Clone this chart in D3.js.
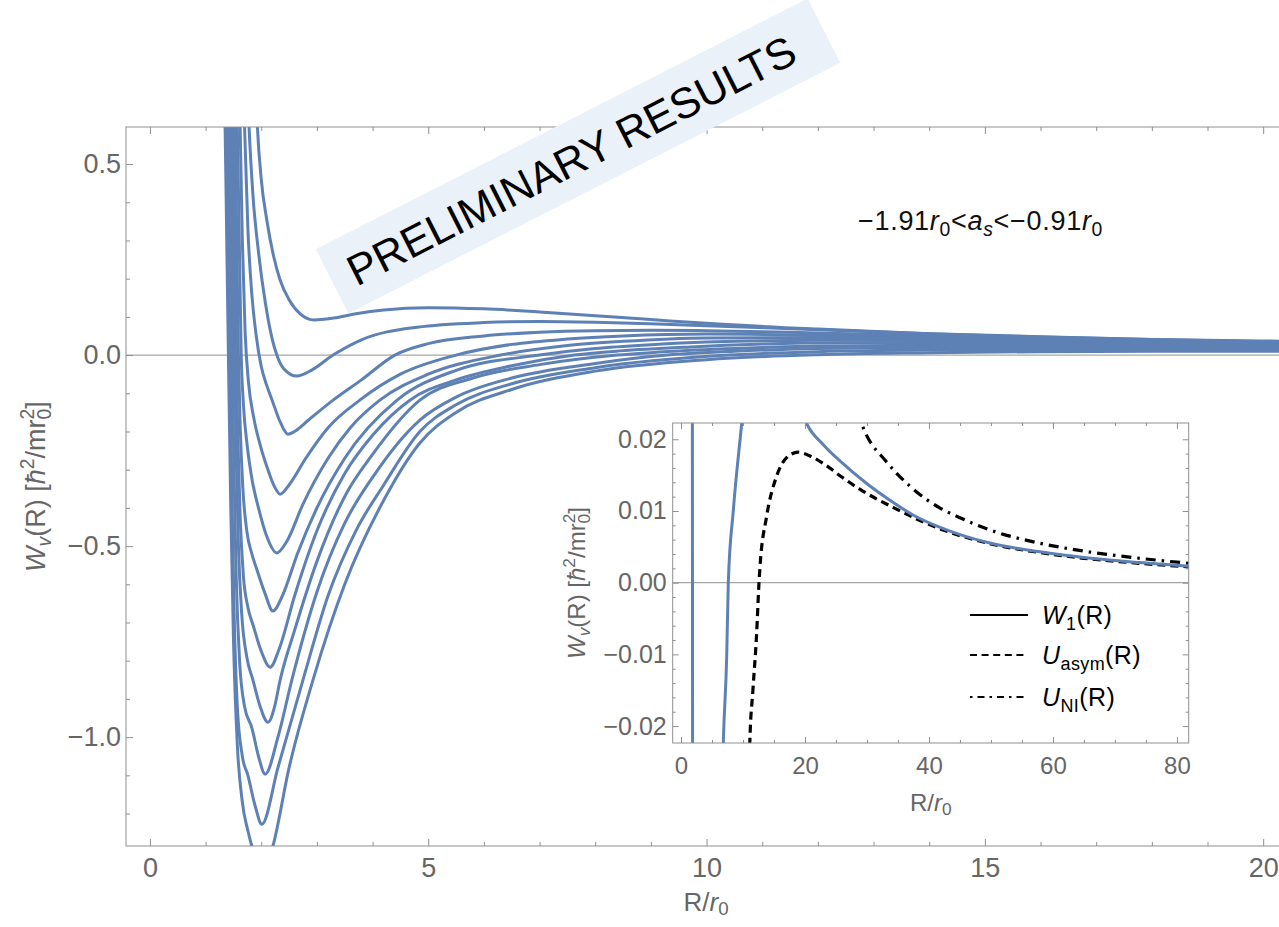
<!DOCTYPE html>
<html>
<head>
<meta charset="utf-8">
<script src="https://cdn.jsdelivr.net/npm/d3@7"></script>
<style>
  html, body { margin: 0; padding: 0; background: #ffffff; }
  svg text { font-family: "Liberation Sans", Arial, Helvetica, sans-serif; }
</style>
</head>
<body>
<svg id="chart" width="1279" height="927"></svg>
<script>
// ---- Effective potentials W_v(R) [hbar^2/m r0^2] versus R/r0, one per v ----
const curve1  = [[1.88,0.80],[1.93,0.60],[2.00,0.46],[2.10,0.353],[2.22,0.26],[2.34,0.196],[2.50,0.145],[2.70,0.108],[2.95,0.092],[3.30,0.097],[3.70,0.108],[4.20,0.118],[5.00,0.124],[6.00,0.121],[7.00,0.113],[8.00,0.103],[9.00,0.093],[10.0,0.083],[12.0,0.068],[14.0,0.056],[16.0,0.047],[18.0,0.041],[20.5,0.036]];
const curve2  = [[1.73,0.80],[1.78,0.60],[1.85,0.42],[1.95,0.27],[2.07,0.14],[2.20,0.04],[2.28,0.0],[2.40,-0.035],[2.64,-0.055],[2.90,-0.040],[3.29,0.0],[3.80,0.040],[4.80,0.073],[6.0,0.085],[7.0,0.088],[8.0,0.086],[9.0,0.082],[10.0,0.077],[12.0,0.066],[14.0,0.056],[16.0,0.048],[18.0,0.041],[20.5,0.034]];
const curve3  = [[1.66,0.80],[1.70,0.60],[1.76,0.33],[1.83,0.16],[1.91,0.05],[2.00,-0.03],[2.10,-0.08],[2.20,-0.12],[2.34,-0.175],[2.48,-0.207],[2.62,-0.198],[2.85,-0.17],[3.29,-0.118],[3.80,-0.065],[4.40,0.0],[5.0,0.030],[6.0,0.050],[7.0,0.060],[8.0,0.064],[9.0,0.065],[10.0,0.064],[12.0,0.058],[14.0,0.051],[16.0,0.044],[18.0,0.038],[20.5,0.031]];
const curve4  = [[1.58,0.80],[1.62,0.60],[1.66,0.30],[1.71,0.06],[1.77,-0.07],[1.86,-0.16],[1.98,-0.235],[2.12,-0.30],[2.24,-0.345],[2.34,-0.364],[2.50,-0.34],[2.80,-0.27],[3.20,-0.19],[3.77,-0.118],[4.50,-0.05],[5.50,0.0],[6.50,0.028],[7.50,0.042],[8.50,0.050],[10.0,0.055],[12.0,0.052],[14.0,0.047],[16.0,0.041],[18.0,0.035],[20.5,0.029]];
const curve5  = [[1.53,0.80],[1.57,0.60],[1.605,0.30],[1.64,0.0],[1.68,-0.13],[1.75,-0.24],[1.84,-0.33],[1.95,-0.40],[2.10,-0.475],[2.28,-0.518],[2.45,-0.49],[2.75,-0.39],[3.20,-0.27],[3.60,-0.19],[4.13,-0.118],[5.0,-0.05],[6.3,0.0],[7.5,0.025],[8.5,0.036],[10.0,0.045],[12.0,0.046],[14.0,0.043],[16.0,0.038],[18.0,0.033],[20.5,0.027]];
const curve6  = [[1.49,0.80],[1.53,0.60],[1.56,0.30],[1.59,0.0],[1.62,-0.18],[1.67,-0.35],[1.74,-0.46],[1.83,-0.52],[1.93,-0.565],[2.07,-0.625],[2.21,-0.670],[2.38,-0.63],[2.65,-0.52],[3.0,-0.40],[3.5,-0.27],[4.44,-0.118],[5.5,-0.04],[7.0,0.0],[8.0,0.017],[9.0,0.027],[10.0,0.034],[12.0,0.039],[14.0,0.038],[16.0,0.035],[18.0,0.030],[20.5,0.025]];
const curve7  = [[1.45,0.80],[1.49,0.60],[1.52,0.30],[1.55,0.0],[1.58,-0.22],[1.62,-0.42],[1.68,-0.58],[1.76,-0.66],[1.86,-0.71],[2.00,-0.775],[2.16,-0.817],[2.32,-0.77],[2.60,-0.63],[3.0,-0.46],[3.5,-0.31],[4.0,-0.21],[4.67,-0.118],[5.5,-0.065],[6.5,-0.028],[7.63,0.0],[8.44,0.011],[9.8,0.022],[11.0,0.029],[12.5,0.032],[14.0,0.032],[16.0,0.030],[18.0,0.026],[20.5,0.022]];
const curve8  = [[1.42,0.80],[1.46,0.60],[1.49,0.30],[1.52,0.0],[1.55,-0.26],[1.59,-0.50],[1.65,-0.68],[1.74,-0.79],[1.85,-0.85],[1.98,-0.92],[2.12,-0.961],[2.24,-0.92],[2.34,-0.85],[2.60,-0.72],[3.0,-0.54],[3.5,-0.37],[4.0,-0.26],[4.85,-0.118],[5.8,-0.06],[7.0,-0.025],[8.4,0.0],[9.5,0.011],[11.0,0.020],[12.0,0.024],[14.0,0.026],[16.0,0.025],[18.0,0.022],[20.5,0.019]];
const curve9  = [[1.38,0.80],[1.42,0.60],[1.45,0.30],[1.48,0.0],[1.51,-0.30],[1.55,-0.58],[1.61,-0.80],[1.70,-0.92],[1.83,-0.975],[1.95,-1.05],[2.07,-1.097],[2.30,-1.0],[2.55,-0.85],[3.0,-0.62],[3.5,-0.44],[4.0,-0.32],[4.85,-0.17],[5.5,-0.11],[6.5,-0.06],[8.0,-0.022],[9.3,0.0],[10.5,0.010],[12.0,0.017],[14.0,0.020],[16.0,0.020],[18.0,0.018],[20.5,0.016]];
const curve10 = [[1.34,0.80],[1.38,0.60],[1.41,0.30],[1.44,0.0],[1.47,-0.34],[1.51,-0.66],[1.57,-0.92],[1.66,-1.05],[1.76,-1.10],[1.89,-1.18],[2.01,-1.228],[2.30,-1.08],[2.75,-0.85],[3.2,-0.63],[3.7,-0.46],[4.2,-0.34],[4.85,-0.20],[5.5,-0.13],[6.5,-0.075],[8.0,-0.033],[10.4,0.0],[12.0,0.009],[14.0,0.013],[16.0,0.014],[18.0,0.014],[20.5,0.013]];
const curve11 = [[1.31,0.80],[1.35,0.60],[1.38,0.30],[1.41,0.0],[1.45,-0.38],[1.50,-0.74],[1.57,-1.02],[1.66,-1.17],[1.76,-1.245],[1.86,-1.30],[2.00,-1.36],[2.10,-1.335],[2.21,-1.285],[2.50,-1.08],[2.93,-0.85],[3.5,-0.60],[4.2,-0.38],[4.85,-0.23],[5.5,-0.15],[6.5,-0.09],[8.0,-0.042],[10.0,-0.012],[12.0,0.001],[14.0,0.006],[16.0,0.009],[18.0,0.010],[20.5,0.010]];
const mainCurves = [curve1, curve2, curve3, curve4, curve5, curve6, curve7, curve8, curve9, curve10, curve11];

const mainXTicks = [0, 5, 10, 15, 20];
const mainXMinor = [1, 2, 3, 4, 6, 7, 8, 9, 11, 12, 13, 14, 16, 17, 18, 19];
const mainYTicks = [-1.0, -0.5, 0.0, 0.5];
const mainYMinor = [-1.2, -1.1, -0.9, -0.8, -0.7, -0.6, -0.4, -0.3, -0.2, -0.1, 0.1, 0.2, 0.3, 0.4];

// ---- Inset: large-R behaviour ----
const insetW1    = [[1.70,0.20],[1.85,0.0],[2.00,-0.20],[3.0,-0.60],[5.0,-0.15],[6.3,-0.045],[6.83,-0.0223],[7.37,-0.0103],[7.63,0.0],[8.44,0.0101],[9.79,0.0222],[11.0,0.033],[13.0,0.038],[15.0,0.036],[17.0,0.031],[19.0,0.025],[20.27,0.0222],[23.0,0.0192],[26.0,0.0167],[30.0,0.0138],[33.7,0.0115],[37.5,0.0094],[41.8,0.0077],[45.0,0.0067],[50.0,0.0055],[57.9,0.0043],[65.0,0.0035],[74.0,0.0028],[82.0,0.0023]];
const insetUasym = [[10.9,-0.030],[11.1,-0.0223],[11.6,-0.0150],[12.2,-0.0071],[12.58,0.0],[12.74,0.0022],[13.8,0.0092],[15.4,0.0148],[17.0,0.0174],[18.9,0.0182],[21.0,0.0176],[23.5,0.0163],[26.0,0.0147],[28.9,0.0130],[34.2,0.0105],[41.8,0.0075],[44.9,0.0066],[50.0,0.0054],[57.9,0.0042],[65.0,0.0034],[74.0,0.0027],[82.0,0.0022]];
const insetUNI   = [[25.0,0.030],[29.1,0.0222],[29.8,0.0208],[33.0,0.0170],[37.0,0.0134],[41.8,0.0104],[44.9,0.0091],[50.0,0.0073],[57.9,0.0055],[65.0,0.0044],[74.0,0.0034],[82.0,0.0027]];

const insetXTicks = [0, 20, 40, 60, 80];
const insetXMinor = [5, 10, 15, 25, 30, 35, 45, 50, 55, 65, 70, 75];
const insetYTicks = [-0.02, -0.01, 0.0, 0.01, 0.02];
const insetYMinor = [-0.018, -0.016, -0.014, -0.012, -0.008, -0.006, -0.004, -0.002, 0.002, 0.004, 0.006, 0.008, 0.012, 0.014, 0.016, 0.018];

const legendLabels = [
  [{t: "W", i: 1}, {t: "1", s: "sub"}, {t: "(R)"}],
  [{t: "U", i: 1}, {t: "asym", s: "sub"}, {t: "(R)"}],
  [{t: "U", i: 1}, {t: "NI", s: "sub"}, {t: "(R)"}]
];

// ---- styling ----
const BLUE = "#5E81B5";
const FRAME = "#8f8f8f";
const LABEL = "#666666";

const svg = d3.select("#chart");

// rich text: italic runs, sub/superscripts
function richText(sel, parts, size, subShift) {
  const sub = subShift == null ? 0.22 : subShift;
  let cur = 0;
  parts.forEach(p => {
    const off = p.s === "sub" ? sub * size : p.s === "sup" ? -0.42 * size : 0;
    const ts = sel.append("tspan").text(p.t).attr("dy", (off - cur).toFixed(2));
    if (p.s) ts.attr("font-size", (size * 0.72).toFixed(1));
    if (p.i) ts.attr("font-style", "italic");
    if (p.dx) ts.attr("dx", p.dx);
    cur = off;
  });
}

// ================= main plot =================
const M = { left: 126, top: 127, right: 1286, bottom: 846 };
const x = d3.scaleLinear().domain([-0.43, 20.41]).range([M.left, M.right]);
const y = d3.scaleLinear().domain([-1.285, 0.597]).range([M.bottom, M.top]);

svg.append("clipPath").attr("id", "clipMain")
  .append("rect").attr("x", M.left).attr("y", M.top)
  .attr("width", M.right - M.left).attr("height", M.bottom - M.top);

// zero line
svg.append("line")
  .attr("x1", M.left).attr("x2", M.right)
  .attr("y1", y(0)).attr("y2", y(0))
  .attr("stroke", "#a6a6a6").attr("stroke-width", 1.2);

const line = d3.line().x(d => x(d[0])).y(d => y(d[1])).curve(d3.curveMonotoneX);
svg.append("g").attr("clip-path", "url(#clipMain)")
  .selectAll("path").data(mainCurves).join("path")
  .attr("d", line)
  .attr("fill", "none")
  .attr("stroke", BLUE)
  .attr("stroke-width", 3)
  .attr("stroke-linejoin", "round");

// frame
svg.append("rect")
  .attr("x", M.left).attr("y", M.top)
  .attr("width", M.right - M.left).attr("height", M.bottom - M.top)
  .attr("fill", "none").attr("stroke", FRAME).attr("stroke-width", 1);

function styleAxis(g, fontSize) {
  g.select(".domain").remove();
  g.selectAll(".tick line").attr("stroke", FRAME);
  g.selectAll(".tick text").attr("fill", LABEL).attr("font-size", fontSize)
    .attr("font-family", "'Liberation Sans', Arial, sans-serif");
}

const fmtInt = d3.format("d");
const fmt1 = d3.format(".1f");

// bottom
svg.append("g").attr("transform", `translate(0,${M.bottom})`)
  .call(d3.axisBottom(x).tickValues(mainXTicks).tickSize(-7).tickPadding(12).tickFormat(fmtInt))
  .call(g => styleAxis(g, 27));
svg.append("g").attr("transform", `translate(0,${M.bottom})`)
  .call(d3.axisBottom(x).tickValues(mainXMinor).tickSize(-4).tickFormat(""))
  .call(g => styleAxis(g, 27));
// top
svg.append("g").attr("transform", `translate(0,${M.top})`)
  .call(d3.axisTop(x).tickValues(mainXTicks).tickSize(-7).tickFormat(""))
  .call(g => styleAxis(g, 27));
svg.append("g").attr("transform", `translate(0,${M.top})`)
  .call(d3.axisTop(x).tickValues(mainXMinor).tickSize(-4).tickFormat(""))
  .call(g => styleAxis(g, 27));
// left
svg.append("g").attr("transform", `translate(${M.left},0)`)
  .call(d3.axisLeft(y).tickValues(mainYTicks).tickSize(-7).tickPadding(5).tickFormat(fmt1))
  .call(g => styleAxis(g, 27));
svg.append("g").attr("transform", `translate(${M.left},0)`)
  .call(d3.axisLeft(y).tickValues(mainYMinor).tickSize(-4).tickFormat(""))
  .call(g => styleAxis(g, 27));
// right
svg.append("g").attr("transform", `translate(${M.right},0)`)
  .call(d3.axisRight(y).tickValues(mainYTicks).tickSize(-7).tickFormat(""))
  .call(g => styleAxis(g, 27));

// axis labels
const xl = svg.append("text")
  .attr("x", (M.left + M.right) / 2).attr("y", 911)
  .attr("text-anchor", "middle").attr("fill", LABEL).attr("font-size", 26);
richText(xl, [{t: "R/"}, {t: "r", i: 1}, {t: "0", s: "sub"}], 26, 0.16);

const yl = svg.append("text")
  .attr("transform", `translate(45,${(M.top + M.bottom) / 2}) rotate(-90)`)
  .attr("text-anchor", "middle").attr("fill", LABEL).attr("font-size", 27);
richText(yl, [
  {t: "W", i: 1}, {t: "v", i: 1, s: "sub"}, {t: "(R) ["}, {t: "ħ", i: 1}, {t: "2", s: "sup"},
  {t: "/mr"}, {t: "0", s: "sub"}, {t: "2", s: "sup", dx: -10.8}, {t: "]"}
], 27);

// scattering-length range annotation
const ann = svg.append("text").attr("x", 858).attr("y", 230)
  .attr("fill", "#111").attr("font-size", 27).attr("letter-spacing", 0.7);
richText(ann, [
  {t: "−1.91"}, {t: "r", i: 1}, {t: "0", s: "sub"}, {t: "<"}, {t: "a", i: 1}, {t: "s", i: 1, s: "sub"},
  {t: "<−0.91"}, {t: "r", i: 1}, {t: "0", s: "sub"}
], 27);

// ================= inset =================
const I = { left: 672.7, top: 423, right: 1188.7, bottom: 743 };
const xi = d3.scaleLinear().domain([-1.34, 81.9]).range([I.left, I.right]);
const yi = d3.scaleLinear().domain([-0.02236, 0.02227]).range([I.bottom, I.top]);

svg.append("clipPath").attr("id", "clipInset")
  .append("rect").attr("x", I.left).attr("y", I.top)
  .attr("width", I.right - I.left).attr("height", I.bottom - I.top);

svg.append("rect")
  .attr("x", I.left).attr("y", I.top)
  .attr("width", I.right - I.left).attr("height", I.bottom - I.top)
  .attr("fill", "#ffffff");

svg.append("line")
  .attr("x1", I.left).attr("x2", I.right)
  .attr("y1", yi(0)).attr("y2", yi(0))
  .attr("stroke", "#a6a6a6").attr("stroke-width", 1.2);

const lineI = d3.line().x(d => xi(d[0])).y(d => yi(d[1])).curve(d3.curveMonotoneX);
const ig = svg.append("g").attr("clip-path", "url(#clipInset)");
ig.append("path").datum(insetUNI).attr("d", lineI)
  .attr("fill", "none").attr("stroke", "#000").attr("stroke-width", 3.2)
  .attr("stroke-dasharray", "10,6,2.5,6");
ig.append("path").datum(insetUasym).attr("d", lineI)
  .attr("fill", "none").attr("stroke", "#000").attr("stroke-width", 3.2)
  .attr("stroke-dasharray", "8,5");
ig.append("path").datum(insetW1).attr("d", lineI)
  .attr("fill", "none").attr("stroke", BLUE).attr("stroke-width", 3);

svg.append("rect")
  .attr("x", I.left).attr("y", I.top)
  .attr("width", I.right - I.left).attr("height", I.bottom - I.top)
  .attr("fill", "none").attr("stroke", FRAME).attr("stroke-width", 1);

const fmt2 = d3.format(".2f");
svg.append("g").attr("transform", `translate(0,${I.bottom})`)
  .call(d3.axisBottom(xi).tickValues(insetXTicks).tickSize(-6).tickPadding(14).tickFormat(fmtInt))
  .call(g => styleAxis(g, 24));
svg.append("g").attr("transform", `translate(0,${I.bottom})`)
  .call(d3.axisBottom(xi).tickValues(insetXMinor).tickSize(-3).tickFormat(""))
  .call(g => styleAxis(g, 24));
svg.append("g").attr("transform", `translate(0,${I.top})`)
  .call(d3.axisTop(xi).tickValues(insetXTicks).tickSize(-6).tickFormat(""))
  .call(g => styleAxis(g, 24));
svg.append("g").attr("transform", `translate(0,${I.top})`)
  .call(d3.axisTop(xi).tickValues(insetXMinor).tickSize(-3).tickFormat(""))
  .call(g => styleAxis(g, 24));
svg.append("g").attr("transform", `translate(${I.left},0)`)
  .call(d3.axisLeft(yi).tickValues(insetYTicks).tickSize(-6).tickPadding(6).tickFormat(fmt2))
  .call(g => styleAxis(g, 25));
svg.append("g").attr("transform", `translate(${I.left},0)`)
  .call(d3.axisLeft(yi).tickValues(insetYMinor).tickSize(-3).tickFormat(""))
  .call(g => styleAxis(g, 25));
svg.append("g").attr("transform", `translate(${I.right},0)`)
  .call(d3.axisRight(yi).tickValues(insetYTicks).tickSize(-6).tickFormat(""))
  .call(g => styleAxis(g, 25));
svg.append("g").attr("transform", `translate(${I.right},0)`)
  .call(d3.axisRight(yi).tickValues(insetYMinor).tickSize(-3).tickFormat(""))
  .call(g => styleAxis(g, 25));

const ixl = svg.append("text")
  .attr("x", (I.left + I.right) / 2).attr("y", 811)
  .attr("text-anchor", "middle").attr("fill", LABEL).attr("font-size", 24);
richText(ixl, [{t: "R/"}, {t: "r", i: 1}, {t: "0", s: "sub"}], 24, 0.16);

const iyl = svg.append("text")
  .attr("transform", `translate(585,${(I.top + I.bottom) / 2}) rotate(-90)`)
  .attr("text-anchor", "middle").attr("fill", LABEL).attr("font-size", 24);
richText(iyl, [
  {t: "W", i: 1}, {t: "v", i: 1, s: "sub"}, {t: "(R) ["}, {t: "ħ", i: 1}, {t: "2", s: "sup"},
  {t: "/mr"}, {t: "0", s: "sub"}, {t: "2", s: "sup", dx: -9.6}, {t: "]"}
], 24);

// legend
const legendRows = [615, 655, 697];
const legendDash = [null, "7,4.6", "2.5,5,7,5"];
legendRows.forEach((ry, k) => {
  svg.append("line").attr("x1", 970).attr("x2", 1028).attr("y1", ry).attr("y2", ry)
    .attr("stroke", "#000").attr("stroke-width", 2)
    .attr("stroke-dasharray", legendDash[k]);
  const t = svg.append("text").attr("x", 1042).attr("y", ry + 9)
    .attr("fill", "#000").attr("font-size", 25).attr("letter-spacing", 0.4);
  richText(t, legendLabels[k], 25);
});

// ================= watermark banner =================
const banner = svg.append("g").attr("transform", "translate(578,156) rotate(-27)");
banner.append("rect").attr("x", -276).attr("y", -36).attr("width", 552).attr("height", 72)
  .attr("fill", "#EAF1F9");
banner.append("text").attr("x", -8).attr("y", 16)
  .attr("text-anchor", "middle").attr("font-size", 43)
  .attr("font-family", "'Open Sans', 'Noto Sans', sans-serif")
  .attr("fill", "#000").text("PRELIMINARY RESULTS");
</script>
</body>
</html>
